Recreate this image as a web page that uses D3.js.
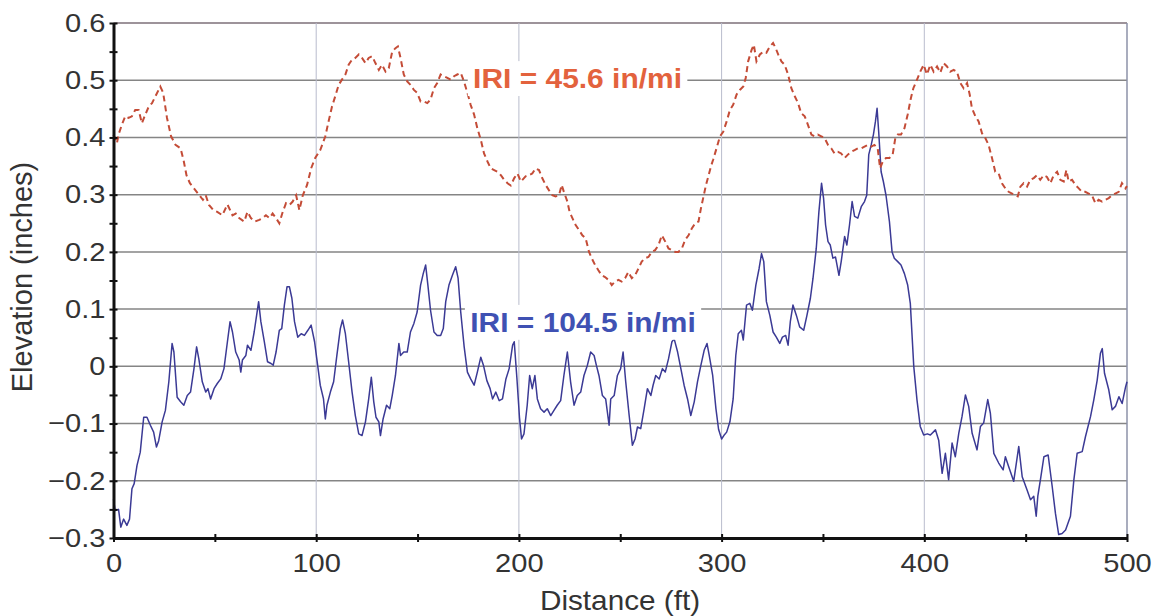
<!DOCTYPE html>
<html lang="en">
<head>
<meta charset="UTF-8">
<title>Elevation profiles</title>
<style>
  body { margin: 0; background: #fff; font-family: "Liberation Sans", Arial, sans-serif; }
  #chart { width: 1154px; height: 616px; }
</style>
<script src="https://d3js.org/d3.v7.min.js"></script>
</head>
<body>
<div id="chart"></div>
<script>
// [distance ft, elevation in]
const smoothProfile = [
  [0,0.405],[1.7,0.39],[2.5,0.405],[4.1,0.422],[5.8,0.437],[7.4,0.434],[9.1,0.437],[10.7,0.448],[12.4,0.448],[14,0.425],
  [15.7,0.44],[17.4,0.454],[19,0.46],[20.7,0.472],[23.1,0.489],[24.5,0.478],[26.4,0.434],[28.4,0.402],[30.6,0.387],[33.1,0.381],
  [34.7,0.358],[36,0.334],[37.7,0.32],[39.7,0.311],[41.7,0.302],[44.1,0.291],[45.5,0.299],[47.1,0.282],[49.3,0.273],[51.2,0.27],
  [53.7,0.264],[56.2,0.283],[58.7,0.264],[60.3,0.267],[62,0.259],[64.5,0.253],[66.1,0.27],[67.8,0.259],[69.8,0.253],[71.9,0.256],
  [73.6,0.259],[75.2,0.264],[76.9,0.259],[78.5,0.267],[80.2,0.259],[81.8,0.25],[83.5,0.27],[85.1,0.285],[86.8,0.282],[88.4,0.288],
  [90.1,0.299],[91.7,0.273],[93.4,0.299],[95.5,0.317],[97.5,0.346],[99.5,0.364],[102,0.378],[104.5,0.402],[106.1,0.428],[107.8,0.454],
  [109.4,0.472],[111.1,0.492],[112.7,0.501],[114.4,0.51],[116,0.527],[117.7,0.536],[119.3,0.539],[121,0.545],[122.6,0.539],[124.3,0.53],
  [125.9,0.539],[127.6,0.542],[129.2,0.53],[130.9,0.518],[132.5,0.527],[134.2,0.515],[135.8,0.521],[137.5,0.55],[139.1,0.556],[140.3,0.559],
  [141.6,0.539],[143.2,0.51],[144.9,0.498],[146.5,0.492],[148.2,0.483],[149.8,0.478],[151.5,0.463],[153.1,0.463],[154.8,0.46],[156.4,0.466],
  [158.1,0.486],[159.7,0.495],[161.4,0.51],[163,0.507],[164.7,0.504],[166.3,0.501],[168,0.507],[169.6,0.51],[171.3,0.513],[172.9,0.498],
  [174.6,0.478],[176.2,0.457],[177.9,0.44],[179.5,0.416],[181.2,0.396],[182.8,0.372],[184.5,0.358],[186.1,0.346],[187.8,0.343],[189.4,0.34],
  [191.1,0.334],[192.7,0.326],[194.4,0.32],[196,0.316],[197.7,0.329],[199.3,0.337],[201,0.323],[203.3,0.332],[204.9,0.334],[206.6,0.337],
  [208.2,0.346],[209.9,0.343],[211.5,0.329],[213.2,0.317],[214.8,0.308],[216.5,0.299],[218.1,0.297],[219.8,0.299],[221.1,0.317],[222.2,0.305],
  [223.9,0.288],[225,0.27],[226.4,0.259],[228,0.247],[229.7,0.238],[231.3,0.229],[232.9,0.224],[234.6,0.2],[235.9,0.189],[237.6,0.177],
  [239.2,0.168],[240.9,0.159],[242.5,0.156],[244.2,0.151],[245.8,0.142],[247.4,0.148],[249.1,0.151],[250.7,0.148],[252.4,0.154],[254,0.165],
  [255.7,0.154],[257.3,0.159],[259,0.171],[260.6,0.183],[262.3,0.189],[263.9,0.191],[265.6,0.2],[267.2,0.203],[268.9,0.212],[270.5,0.229],
  [272.2,0.218],[273.8,0.206],[275.5,0.203],[277.1,0.2],[278.7,0.2],[280.4,0.206],[282,0.221],[283.7,0.229],[285.3,0.241],[287,0.25],
  [288.6,0.253],[289.8,0.276],[290.9,0.294],[292.3,0.317],[293.6,0.334],[294.8,0.35],[295.9,0.362],[297.5,0.381],[299.2,0.402],[300.8,0.41],
  [302.5,0.428],[304.1,0.448],[305.7,0.457],[307.4,0.475],[309,0.483],[310.7,0.489],[311.9,0.504],[313.1,0.533],[314.8,0.553],[315.9,0.562],
  [317.2,0.533],[318.9,0.545],[320.5,0.55],[322.1,0.548],[323.8,0.559],[325.4,0.565],[326.7,0.556],[327.9,0.545],[329.5,0.533],[331.1,0.527],
  [332.8,0.51],[334.4,0.486],[336.1,0.472],[337.7,0.46],[339.3,0.442],[341,0.437],[342.6,0.422],[344.3,0.405],[345.9,0.402],[347.5,0.405],
  [349.2,0.402],[350.8,0.399],[352.5,0.387],[354.1,0.381],[355.7,0.372],[357.4,0.375],[359,0.372],[360.7,0.364],[362.3,0.37],[363.9,0.375],
  [365.6,0.378],[367.2,0.381],[368.9,0.381],[370.5,0.384],[372.1,0.387],[373.8,0.384],[375.4,0.387],[377,0.381],[378.2,0.346],[379.5,0.358],
  [381.1,0.364],[382.8,0.364],[384.4,0.37],[385.7,0.399],[386.9,0.405],[388.5,0.405],[390.2,0.416],[391.8,0.44],[393.4,0.469],[394.6,0.486],
  [396.4,0.501],[398,0.515],[399.7,0.527],[401.3,0.51],[403,0.527],[404.6,0.515],[406.3,0.524],[407.9,0.513],[409.5,0.53],[411.2,0.524],
  [412.8,0.515],[414.5,0.518],[416.1,0.515],[417.8,0.495],[419.4,0.486],[421.1,0.495],[422.4,0.475],[423.5,0.451],[425.2,0.437],[426.8,0.428],
  [428.5,0.407],[430.1,0.399],[431.7,0.387],[433.4,0.364],[435,0.34],[436.7,0.337],[438.3,0.32],[440,0.311],[441.6,0.305],[443.3,0.302],
  [444.9,0.299],[446.1,0.297],[447.4,0.314],[449,0.32],[450.7,0.314],[452.3,0.326],[454,0.329],[455.6,0.334],[457.2,0.326],[458.9,0.334],
  [460.5,0.331],[462.2,0.32],[463.8,0.334],[465.5,0.34],[467.1,0.326],[468.8,0.323],[470.1,0.343],[471.2,0.323],[472.9,0.326],[474.5,0.317],
  [476.2,0.311],[477.8,0.305],[479.4,0.305],[481.1,0.302],[482.7,0.299],[484.4,0.285],[486,0.291],[487.7,0.288],[489.3,0.291],[491,0.294],
  [492.6,0.299],[494.2,0.302],[495.9,0.305],[497.5,0.32],[499.2,0.311],[500,0.315]
];

const roughProfile = [
  [0,-0.232],[0.8,-0.252],[2.5,-0.25],[3.6,-0.281],[5,-0.267],[6.6,-0.278],[7.9,-0.267],[9.1,-0.214],[10.2,-0.205],[11.6,-0.173],
  [13.2,-0.15],[14.9,-0.089],[16.5,-0.089],[18.2,-0.103],[19.8,-0.115],[21.2,-0.141],[22.3,-0.13],[24,-0.097],[25.6,-0.077],[27.3,-0.027],
  [28.9,0.04],[29.8,0.025],[31.4,-0.054],[33.1,-0.062],[34.7,-0.068],[36.4,-0.051],[38,-0.045],[39.7,-0.004],[41,0.034],[42.1,0.013],
  [43.8,-0.027],[45.5,-0.045],[46.6,-0.039],[47.9,-0.057],[49.6,-0.039],[51.2,-0.03],[52.9,-0.022],[54.5,-0.004],[56.2,0.043],[57.5,0.078],
  [58.7,0.06],[60.3,0.025],[62,0.011],[62.8,-0.01],[63.6,0.011],[65.3,0.019],[66.1,0.037],[67.8,0.028],[69.4,0.06],[70.6,0.089],
  [71.6,0.113],[72.7,0.078],[74.4,0.043],[76,0.008],[77.7,0.005],[78.8,0.002],[80.2,0.025],[81.8,0.063],[83,0.066],[84.3,0.107],
  [85.6,0.139],[86.8,0.139],[88,0.119],[89.3,0.078],[90.9,0.051],[92.6,0.057],[94.2,0.054],[95.9,0.063],[97.5,0.072],[99.2,0.043],
  [100.3,0.013],[102,-0.033],[103.6,-0.057],[104.5,-0.092],[105.3,-0.068],[107,-0.045],[108.6,-0.027],[110.2,0.019],[111.9,0.066],[113,0.081],
  [114.4,0.057],[116,0.008],[117.7,-0.045],[119.3,-0.086],[121,-0.118],[122.6,-0.121],[124.3,-0.097],[125.9,-0.057],[127.2,-0.019],[128.4,-0.062],
  [129.5,-0.089],[130.9,-0.097],[131.7,-0.121],[133,-0.092],[134.7,-0.068],[136.3,-0.074],[137.5,-0.051],[139.1,-0.016],[140.8,0.04],[141.6,0.019],
  [143.2,0.025],[144.9,0.025],[146.5,0.06],[148.2,0.075],[149.8,0.095],[151.5,0.142],[152.8,0.162],[154,0.177],[155.1,0.142],[156.4,0.098],
  [158.1,0.06],[159.7,0.054],[161.4,0.054],[162.7,0.066],[163.9,0.113],[165.5,0.142],[167.2,0.159],[168.8,0.174],[170,0.154],[171.3,0.095],
  [173,0.034],[174.6,-0.01],[176.2,-0.022],[177.9,-0.033],[179.5,-0.01],[181.2,0.016],[182.5,0.002],[184.2,-0.025],[185.8,-0.039],[187,-0.057],
  [188.6,-0.045],[190.3,-0.06],[191.9,-0.057],[193.6,-0.022],[195.2,-0.004],[196.9,0.037],[197.7,0.043],[199,-0.02],[200.3,-0.09],[201.3,-0.127],
  [202.5,-0.118],[204.1,-0.068],[205.3,-0.016],[206.6,-0.039],[207.9,-0.016],[209.1,-0.057],[210.7,-0.074],[212.4,-0.08],[214,-0.074],[215.7,-0.086],
  [217.3,-0.077],[218.9,-0.068],[220.6,-0.06],[222.2,-0.016],[223.9,0.025],[225.5,-0.027],[227.2,-0.068],[228.8,-0.051],[230.5,-0.045],[232.1,-0.016],
  [233.8,0.002],[235.4,0.025],[237.1,0.019],[238.2,0.002],[239.5,-0.016],[241.2,-0.051],[242.8,-0.057],[244.5,-0.103],[245.3,-0.057],[247,-0.051],
  [248.6,-0.016],[250.2,-0.004],[251.4,0.025],[252.7,-0.027],[254.4,-0.086],[256,-0.138],[257.3,-0.127],[258.5,-0.106],[260.1,-0.109],[261.8,-0.074],
  [263.4,-0.039],[265.1,-0.051],[266.2,-0.033],[267.5,-0.016],[269.2,-0.022],[270.8,-0.004],[272.2,-0.01],[273.8,0.013],[275.5,0.043],[276.6,0.048],
  [278.3,0.025],[279.9,-0.004],[281.5,-0.033],[283.2,-0.057],[284.8,-0.086],[286.5,-0.062],[288.1,-0.027],[289.8,0.002],[291.4,0.028],[292.8,0.04],
  [293.9,0.019],[295.6,-0.016],[297.2,-0.074],[298.5,-0.11],[300,-0.127],[301.1,-0.121],[302.5,-0.115],[304.1,-0.097],[305.7,-0.057],[307,0.019],
  [308.2,0.057],[309.8,0.063],[310.7,0.046],[312.3,0.107],[313.9,0.11],[315.2,0.098],[316.9,0.142],[318.5,0.171],[319.7,0.197],[320.8,0.183],
  [322.1,0.113],[323.8,0.089],[325.4,0.06],[327,0.051],[328.7,0.04],[330,0.051],[331.6,0.054],[332.8,0.037],[333.9,0.078],[335.2,0.107],
  [336.9,0.089],[338.5,0.069],[340.5,0.063],[342.1,0.089],[343.8,0.119],[345.1,0.154],[346.7,0.206],[348,0.27],[349.3,0.32],[350.3,0.294],
  [351.3,0.247],[352.5,0.218],[353.6,0.212],[354.9,0.189],[356.2,0.191],[357.9,0.159],[359,0.183],[360.7,0.227],[361.8,0.212],[363.1,0.247],
  [364.4,0.288],[365.6,0.262],[367.2,0.259],[368.9,0.279],[370.5,0.288],[371.6,0.299],[372.6,0.37],[373.8,0.387],[374.9,0.405],[375.9,0.428],
  [376.7,0.451],[377.5,0.41],[378.7,0.34],[379.8,0.323],[381.1,0.299],[382.8,0.253],[384.1,0.2],[385.2,0.189],[386.9,0.183],[388.5,0.177],
  [390.2,0.162],[391.8,0.142],[393.1,0.11],[394.8,0],[396.4,-0.059],[398,-0.105],[399.7,-0.12],[401.5,-0.118],[403,-0.12],[405.5,-0.111],
  [407.1,-0.129],[408.8,-0.187],[410.4,-0.152],[412,-0.198],[413.7,-0.134],[415.3,-0.158],[417,-0.117],[418.6,-0.088],[420.3,-0.05],[421.9,-0.07],
  [423.6,-0.117],[426,-0.146],[427.7,-0.105],[429.3,-0.099],[431.3,-0.058],[432.6,-0.082],[434.3,-0.152],[436.7,-0.169],[438.9,-0.181],[440,-0.158],
  [441.6,-0.175],[444.1,-0.201],[446.6,-0.14],[448.3,-0.193],[450.7,-0.216],[452.4,-0.233],[454,-0.227],[455.2,-0.262],[456,-0.227],[457.3,-0.198],
  [459,-0.158],[461.1,-0.155],[463.1,-0.21],[464.7,-0.257],[466.3,-0.294],[468,-0.292],[469.7,-0.286],[472.1,-0.262],[473.8,-0.198],[475.4,-0.152],
  [477.9,-0.149],[479.5,-0.123],[482,-0.088],[483.6,-0.059],[485.3,-0.024],[486.9,0.023],[487.8,0.031],[488.9,-0.012],[491,-0.041],[492.7,-0.076],
  [494.3,-0.07],[496,-0.053],[497.6,-0.065],[499.3,-0.036],[500,-0.027]
];

const yTickMarks = [-0.3,-0.25,-0.2,-0.15,-0.1,-0.05,0,0.05,0.1,0.15,0.2,0.25,0.3,0.35,0.4,0.45,0.5,0.55,0.6];
const yGrid = [-0.2,-0.1,0,0.1,0.2,0.3,0.4,0.5,0.6];
const xTickMarks = [0,50,100,150,200,250,300,350,400,450,500];
const xGrid = [100,200,300,400];
const smoothLabel = "IRI = 45.6 in/mi";
const roughLabel = "IRI = 104.5 in/mi";

const width = 1154, height = 616;
const svg = d3.select("#chart").append("svg")
    .attr("width", width)
    .attr("height", height);

const x = d3.scaleLinear().domain([0, 500]).range([113.5, 1127]);
const y = d3.scaleLinear().domain([-0.3, 0.6]).range([538, 23]);

const stretch = 1.12; // source picture is a bit wide
const isMajorY = v => Math.abs(v * 10 - Math.round(v * 10)) < 1e-6;
const fmtY = v => Math.abs(v) < 1e-9 ? "0" : (v < 0 ? "\u2212" : "") + Math.abs(v).toFixed(1);

// grid
svg.append("g").selectAll("line").data(yGrid).join("line")
    .attr("x1", x(0)).attr("x2", x(500))
    .attr("y1", d => y(d)).attr("y2", d => y(d))
    .attr("stroke", d => d === 0.6 ? "#7d6f78" : "#858585")
    .attr("stroke-width", 1.5);

svg.append("g").selectAll("line").data(xGrid).join("line")
    .attr("x1", d => x(d)).attr("x2", d => x(d))
    .attr("y1", y(0.6)).attr("y2", y(-0.3))
    .attr("stroke", "#b9bccd")
    .attr("stroke-width", 1);

svg.append("line")
    .attr("x1", x(500)).attr("x2", x(500))
    .attr("y1", y(0.6)).attr("y2", y(-0.3))
    .attr("stroke", "#8d92a8").attr("stroke-width", 1.5);

// IRI labels sit on white boxes that hide the grid
function addLabel(text, fx, fy, color) {
    const g = svg.append("g")
        .attr("transform", `translate(${x(fx)},${y(fy)}) scale(1.07,1)`);
    const rect = g.append("rect").attr("fill", "#fff");
    const t = g.append("text")
        .attr("font-size", 28)
        .attr("font-weight", "bold")
        .attr("fill", color)
        .text(text);
    const b = t.node().getBBox();
    rect.attr("x", b.x - 5).attr("y", b.y - 2)
        .attr("width", b.width + 10).attr("height", b.height + 4);
    return g;
}

const line = d3.line().x(d => x(d[0])).y(d => y(d[1]));

svg.append("path")
    .datum(roughProfile)
    .attr("d", line)
    .attr("fill", "none")
    .attr("stroke", "#3b3a95")
    .attr("stroke-width", 1.5)
    .attr("stroke-linejoin", "round");

svg.append("path")
    .datum(smoothProfile)
    .attr("d", line)
    .attr("fill", "none")
    .attr("stroke", "#c44c37")
    .attr("stroke-width", 2)
    .attr("stroke-dasharray", "6,4");

addLabel(smoothLabel, 177.4, 0.486, "#e3623d");
addLabel(roughLabel, 176, 0.06, "#3f51b3");

// axes
const yAxis = svg.append("g")
    .attr("transform", `translate(${x(0)},0)`)
    .call(d3.axisLeft(y).tickValues(yTickMarks).tickSizeOuter(0).tickSizeInner(4)
        .tickFormat(v => isMajorY(v) ? fmtY(v) : ""));
yAxis.select(".domain").attr("stroke", "#111").attr("stroke-width", 3);
yAxis.selectAll(".tick line").attr("x1", -4).attr("x2", 4).attr("stroke", "#111").attr("stroke-width", 2);
yAxis.selectAll(".tick text")
    .attr("x", -8 / stretch)
    .attr("transform", `scale(${stretch},1)`)
    .attr("font-family", "'Liberation Sans', Arial, sans-serif")
    .attr("font-size", 26)
    .attr("fill", "#333");

const xAxis = svg.append("g")
    .attr("transform", `translate(0,${y(-0.3)})`)
    .call(d3.axisBottom(x).tickValues(xTickMarks).tickSizeOuter(0).tickSizeInner(4).tickPadding(12)
        .tickFormat(v => v % 100 === 0 ? String(v) : ""));
xAxis.select(".domain").attr("stroke", "#111").attr("stroke-width", 3);
xAxis.selectAll(".tick line").attr("y1", -4).attr("y2", 4).attr("stroke", "#111").attr("stroke-width", 2);
xAxis.selectAll(".tick text")
    .attr("transform", `scale(${stretch},1)`)
    .attr("font-family", "'Liberation Sans', Arial, sans-serif")
    .attr("font-size", 26)
    .attr("fill", "#333");

// axis titles
svg.append("text")
    .attr("transform", `translate(620,610) scale(1.1,1)`)
    .attr("text-anchor", "middle")
    .attr("font-size", 27)
    .attr("fill", "#333")
    .text("Distance (ft)");

svg.append("text")
    .attr("transform", `translate(32,277) rotate(-90)`)
    .attr("text-anchor", "middle")
    .attr("font-size", 29)
    .attr("fill", "#333")
    .text("Elevation (inches)");
</script>
</body>
</html>
